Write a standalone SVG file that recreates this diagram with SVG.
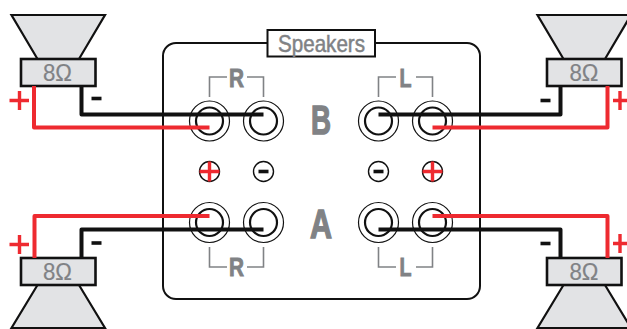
<svg xmlns="http://www.w3.org/2000/svg" width="627" height="329" viewBox="0 0 627 329">
<style>
text{font-family:"Liberation Sans",Arial,sans-serif;fill:#808285;stroke:#808285;text-anchor:middle}
.sp{font-size:24px;stroke-width:.5}
.ohm{font-size:23.500px;stroke-width:.2}
.lab{font-size:26.500px;font-weight:bold;stroke-width:.9}
.big{font-size:40px;font-weight:bold;stroke-width:1.4}
.cone{fill:#e2e3e5;stroke:#111;stroke-width:2.2;stroke-linejoin:miter}
.mag{fill:#e2e3e5;stroke:#111;stroke-width:2.6}
.ring{fill:none;stroke:#111;stroke-width:1.2}
.core{fill:#fff;stroke:#111;stroke-width:2.2}
.sign{fill:#fff;stroke:#111;stroke-width:1.4}
.wk{fill:none;stroke:#111;stroke-width:4;stroke-linejoin:round}
.wr{fill:none;stroke:#ee2a30;stroke-width:4;stroke-linejoin:round}
.br{fill:none;stroke:#808285;stroke-width:1.6}
.pr{stroke:#ee2a30;stroke-width:3.4;fill:none}
.mk{stroke:#111;stroke-width:3.6;fill:none}
</style>
<g id="panel">
<rect x="163" y="43" width="317" height="256" rx="13" fill="#fff" stroke="#111" stroke-width="2"/>
<rect x="267.500" y="30" width="107.500" height="26.500" fill="#fff" stroke="#111" stroke-width="2"/>
<text x="321.500" y="52" class="sp" textLength="87" lengthAdjust="spacingAndGlyphs">Speakers</text>
<text x="321" y="134" class="big" textLength="20" lengthAdjust="spacingAndGlyphs">B</text>
<text x="321" y="238" class="big" textLength="22" lengthAdjust="spacingAndGlyphs">A</text>
</g>
<g id="label-r-top"><path class="br" d="M209.500 97V77H227M247 77H263.500V97"/><text x="236.500" y="87" class="lab" textLength="15" lengthAdjust="spacingAndGlyphs">R</text></g>
<g id="label-l-top"><path class="br" d="M378.500 97V77H396M416 77H432.500V97"/><text x="405.500" y="87" class="lab" textLength="12" lengthAdjust="spacingAndGlyphs">L</text></g>
<g id="label-r-bottom"><path class="br" d="M209.500 247V267H227M247 267H263.500V247"/><text x="236.500" y="276" class="lab" textLength="15" lengthAdjust="spacingAndGlyphs">R</text></g>
<g id="label-l-bottom"><path class="br" d="M378.500 247V267H396M416 267H432.500V247"/><text x="405.500" y="276" class="lab" textLength="12" lengthAdjust="spacingAndGlyphs">L</text></g>
<g id="jack-b-r-plus"><circle class="ring" cx="209.500" cy="121" r="20"/><circle class="core" cx="209.500" cy="121" r="13.500"/></g>
<g id="jack-b-r-minus"><circle class="ring" cx="263.500" cy="121" r="20"/><circle class="core" cx="263.500" cy="121" r="13.500"/></g>
<g id="jack-b-l-minus"><circle class="ring" cx="378.500" cy="121" r="20"/><circle class="core" cx="378.500" cy="121" r="13.500"/></g>
<g id="jack-b-l-plus"><circle class="ring" cx="432.500" cy="121" r="20"/><circle class="core" cx="432.500" cy="121" r="13.500"/></g>
<g id="jack-a-r-plus"><circle class="ring" cx="209.500" cy="222.500" r="20"/><circle class="core" cx="209.500" cy="222.500" r="13.500"/></g>
<g id="jack-a-r-minus"><circle class="ring" cx="263.500" cy="222.500" r="20"/><circle class="core" cx="263.500" cy="222.500" r="13.500"/></g>
<g id="jack-a-l-minus"><circle class="ring" cx="378.500" cy="222.500" r="20"/><circle class="core" cx="378.500" cy="222.500" r="13.500"/></g>
<g id="jack-a-l-plus"><circle class="ring" cx="432.500" cy="222.500" r="20"/><circle class="core" cx="432.500" cy="222.500" r="13.500"/></g>
<g id="sign-r-plus"><circle class="sign" cx="209.500" cy="171.500" r="10"/><path class="pr" d="M199.500 171.500H219.500M209.500 161.500V181.500"/></g>
<g id="sign-r-minus"><circle class="sign" cx="263.500" cy="171.500" r="10"/><path class="mk" d="M258.500 171.500H268.500"/></g>
<g id="sign-l-minus"><circle class="sign" cx="378.500" cy="171.500" r="10"/><path class="mk" d="M373.500 171.500H383.500"/></g>
<g id="sign-l-plus"><circle class="sign" cx="432.500" cy="171.500" r="10"/><path class="pr" d="M422.500 171.500H442.500M432.500 161.500V181.500"/></g>
<g id="speaker-top-left">
<path class="cone" d="M11.500 15H105L79 59H37.500Z"/><rect class="mag" x="21" y="59" width="74.500" height="27"/>
<text x="57.500" y="81" class="ohm" textLength="29" lengthAdjust="spacingAndGlyphs">8Ω</text>
</g>
<g id="speaker-top-right">
<path class="cone" d="M537.500 15H631L605 59H563.500Z"/><rect class="mag" x="547" y="59" width="74.500" height="27"/>
<text x="584" y="81" class="ohm" textLength="29" lengthAdjust="spacingAndGlyphs">8Ω</text>
</g>
<g id="speaker-bottom-left">
<path class="cone" d="M11.500 328H105L79 285H37.500Z"/><rect class="mag" x="21" y="258" width="74.500" height="27"/>
<text x="57.500" y="280" class="ohm" textLength="29" lengthAdjust="spacingAndGlyphs">8Ω</text>
</g>
<g id="speaker-bottom-right">
<path class="cone" d="M537.500 328H631L605 285H563.500Z"/><rect class="mag" x="547" y="258" width="74.500" height="27"/>
<text x="584" y="280" class="ohm" textLength="29" lengthAdjust="spacingAndGlyphs">8Ω</text>
</g>
<g id="connectors">
<path class="wk" d="M81.500 86V114.500H263.500"/>
<path class="wr" d="M34 86V127.500H209.500"/>
<path class="wk" d="M560.500 86V114.500H378.500"/>
<path class="wr" d="M607.500 86V127.500H432.500"/>
<path class="wr" d="M34.500 258V216H209.500"/>
<path class="wk" d="M81.500 258V229.500H263.500"/>
<path class="wr" d="M607.500 258V216H432.500"/>
<path class="wk" d="M560.500 258V229.500H378.500"/>
</g>
<g id="polarity">
<path class="pr" d="M9.500 100.500H29M19.500 91V110"/>
<path class="mk" d="M91.500 98.500H101.500"/>
<path class="pr" d="M613 100.500H627M620 91V110"/>
<path class="mk" d="M540.500 100.500H550.500"/>
<path class="pr" d="M9.500 244.500H29M19.500 235V254"/>
<path class="mk" d="M91.500 243H101.500"/>
<path class="pr" d="M613 243.500H627M620 234V253"/>
<path class="mk" d="M540.500 243.500H550.500"/>
</g>
</svg>
